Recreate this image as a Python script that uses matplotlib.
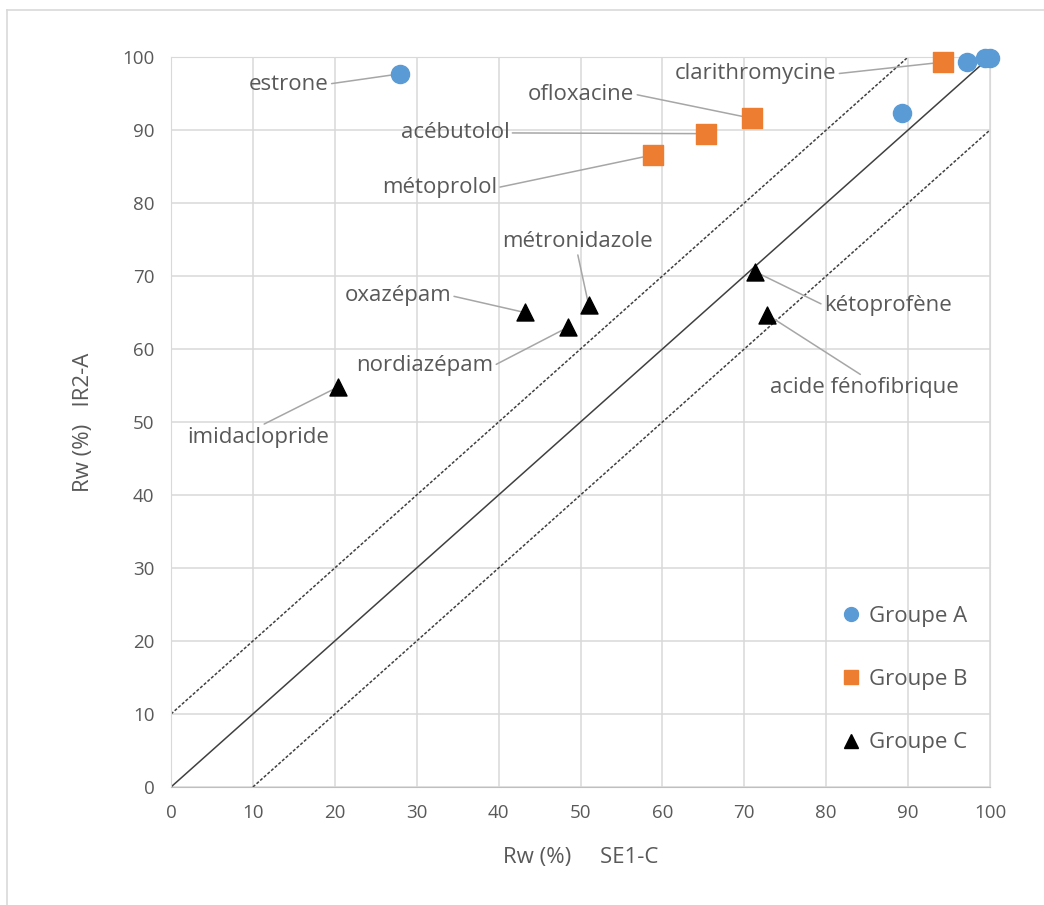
import matplotlib.pyplot as plt
from matplotlib.lines import Line2D

# Rw (%) values: x = SE1-C, y = IR2-A
grpA_names = ["estrone", "", "", "", ""]
grpA_x = [28.0, 89.3, 97.2, 99.4, 100.0]
grpA_y = [97.7, 92.3, 99.3, 99.9, 99.9]

grpB_names = ["clarithromycine", "ofloxacine", "acébutolol", "métoprolol"]
grpB_x = [94.3, 70.9, 65.3, 58.9]
grpB_y = [99.3, 91.6, 89.5, 86.6]

grpC_names = ["imidaclopride", "oxazépam", "nordiazépam", "métronidazole",
              "kétoprofène", "acide fénofibrique"]
grpC_x = [20.4, 43.2, 48.5, 51.0, 71.3, 72.8]
grpC_y = [54.8, 65.0, 63.0, 66.0, 70.6, 64.7]

# label placement (text centre in data units, where the leader line leaves the text)
label_pos = {
    "estrone": (14.4, 96.3, (1, 0.5)),
    "clarithromycine": (71.4, 97.7, (1, 0.5)),
    "ofloxacine": (50.1, 94.9, (1, 0.5)),
    "acébutolol": (34.7, 89.6, (1, 0.5)),
    "métoprolol": (32.8, 82.1, (1, 0.5)),
    "métronidazole": (49.6, 74.7, (0.5, 0)),
    "oxazépam": (27.7, 67.3, (1, 0.5)),
    "nordiazépam": (31.0, 57.7, (1, 0.5)),
    "imidaclopride": (10.7, 47.9, (0.5, 1)),
    "kétoprofène": (87.5, 66.0, (0, 0.5)),
    "acide fénofibrique": (84.7, 54.7, (0.5, 1)),
}

txt = "#595959"
grid = "#d9d9d9"
fs = 16
plt.rcParams['font.family'] = ['Open Sans', 'DejaVu Sans']

fig = plt.figure(figsize=(10.44, 9.05), dpi=100)
ax = fig.add_axes([171 / 1044, 1 - 787 / 905, (990 - 171) / 1044, (787 - 57) / 905])

# reference lines
ax.plot([0, 100], [0, 100], color="#404040", lw=1.1, zorder=2)
ax.plot([0, 90], [10, 100], color="#404040", lw=1.1, ls=(0, (2, 1.2)), zorder=2)
ax.plot([10, 100], [0, 90], color="#404040", lw=1.1, ls=(0, (2, 1.2)), zorder=2)

ax.scatter(grpA_x, grpA_y, s=170, marker="o", color="#5b9bd5", zorder=4, label="Groupe A", clip_on=False)
ax.scatter(grpB_x, grpB_y, s=190, marker="s", color="#ed7d31", zorder=4, label="Groupe B", clip_on=False)
ax.scatter(grpC_x, grpC_y, s=150, marker="^", color="black", zorder=4, label="Groupe C", clip_on=False)

# labels with leader lines
for names, xs, ys in [(grpA_names, grpA_x, grpA_y),
                      (grpB_names, grpB_x, grpB_y),
                      (grpC_names, grpC_x, grpC_y)]:
    for n, x, y in zip(names, xs, ys):
        if not n:
            continue
        tx, ty, rp = label_pos[n]
        ax.annotate(n, xy=(x, y), xytext=(tx, ty), ha="center", va="center",
                    fontsize=fs, color=txt, zorder=3,
                    arrowprops=dict(arrowstyle="-", color="#a6a6a6", lw=1.1,
                                    relpos=rp, shrinkA=0, shrinkB=0))

ax.set_xlim(0, 100)
ax.set_ylim(0, 100)
ax.set_xticks(range(0, 101, 10))
ax.set_yticks(range(0, 101, 10))
ax.grid(True, color=grid, lw=1.1, zorder=0)
ax.set_axisbelow(True)
ax.tick_params(length=0, labelsize=13.5, labelcolor=txt, pad=12)
for s in ax.spines.values():
    s.set_color(grid)
ax.spines["bottom"].set_color("#bfbfbf")

ax.set_xlabel("Rw (%)     SE1-C", fontsize=fs, color=txt, labelpad=18)
ax.set_ylabel("Rw (%)   IR2-A", fontsize=fs, color=txt, labelpad=20)

leg_handles = [
    Line2D([], [], ls="", marker="o", color="#5b9bd5", markersize=10),
    Line2D([], [], ls="", marker="s", color="#ed7d31", markersize=10),
    Line2D([], [], ls="", marker="^", color="black", markersize=10),
]
ax.legend(leg_handles, ["Groupe A", "Groupe B", "Groupe C"], loc="upper left",
          bbox_to_anchor=(822 / 1044, 1 - 586 / 905), bbox_transform=fig.transFigure,
          frameon=False, fontsize=fs, labelcolor=txt, handlelength=0.8,
          handletextpad=0.4, labelspacing=1.9)

# chart border (top and left edges visible)
fig.add_artist(Line2D([7 / 1044, 7 / 1044], [0, 1 - 10 / 905], transform=fig.transFigure, color="#d9d9d9", lw=1.2))
fig.add_artist(Line2D([7 / 1044, 1], [1 - 10 / 905, 1 - 10 / 905], transform=fig.transFigure, color="#d9d9d9", lw=1.2))

fig.savefig("out.png", dpi=100)
